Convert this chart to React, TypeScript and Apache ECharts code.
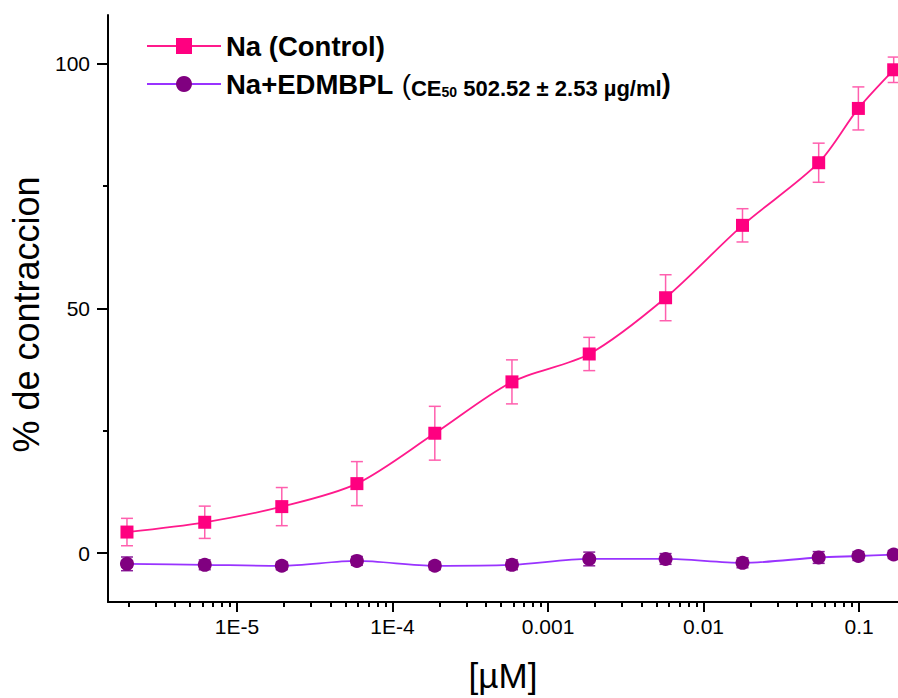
import React, { useEffect, useRef } from "react";
import * as echarts from "echarts";

// concentrations [µM]
const CONC = [1.96e-6, 6.2e-6, 1.94e-5, 5.9e-5, 1.87e-4, 5.86e-4, 1.84e-3, 5.7e-3, 1.78e-2, 5.5e-2, 0.099, 0.167];
const CONTROL = [4.3, 6.3, 9.5, 14.2, 24.5, 35.0, 40.7, 52.2, 67.0, 79.8, 90.9, 98.8];
const CONTROL_SEM = [2.8, 3.3, 3.9, 4.5, 5.5, 4.5, 3.4, 4.7, 3.4, 4.0, 4.4, 2.6];
const EDMBPL = [-2.2, -2.4, -2.6, -1.6, -2.6, -2.4, -1.2, -1.2, -2.0, -0.9, -0.6, -0.3];
const EDMBPL_SEM = [1.4, 1.0, 0.8, 0.9, 0.8, 1.0, 1.4, 1.1, 1.0, 1.2, 0.9, 0.8];

const X_MAJOR = [1e-5, 1e-4, 1e-3, 1e-2, 1e-1];
const X_MAJOR_LABELS = ["1E-5", "1E-4", "0.001", "0.01", "0.1"];
const X_MINOR = [
  2e-6, 3e-6, 4e-6, 5e-6, 6e-6, 7e-6, 8e-6, 9e-6,
  2e-5, 3e-5, 4e-5, 5e-5, 6e-5, 7e-5, 8e-5, 9e-5,
  2e-4, 3e-4, 4e-4, 5e-4, 6e-4, 7e-4, 8e-4, 9e-4,
  2e-3, 3e-3, 4e-3, 5e-3, 6e-3, 7e-3, 8e-3, 9e-3,
  2e-2, 3e-2, 4e-2, 5e-2, 6e-2, 7e-2, 8e-2, 9e-2,
];
const Y_MAJOR = [0, 50, 100];
const Y_MINOR = [25, 75];

const X_MIN = 1.48e-6;
const X_MAX = 0.178;

const FONT = "'Liberation Sans', Arial, sans-serif";

export default function App() {
  const ref = useRef<HTMLDivElement>(null);
  useEffect(() => {
    if (!ref.current) return;
    const chart = echarts.init(ref.current, null, { renderer: "svg" });

    const ctrlData = CONC.map((c, i) => [c, CONTROL[i]]);
    const edData = CONC.map((c, i) => [c, EDMBPL[i]]);
    const ctrlErr = CONC.map((c, i) => [c, CONTROL[i] - CONTROL_SEM[i], CONTROL[i] + CONTROL_SEM[i]]);
    const edErr = CONC.map((c, i) => [c, EDMBPL[i] - EDMBPL_SEM[i], EDMBPL[i] + EDMBPL_SEM[i]]);

    const errRender = (color: string) => (params: any, api: any) => {
      const x = api.value(0);
      const lo = api.coord([x, api.value(1)]);
      const hi = api.coord([x, api.value(2)]);
      const cap = 6;
      const style = { stroke: color, lineWidth: 1.5 };
      return {
        type: "group",
        children: [
          { type: "line", shape: { x1: lo[0], y1: lo[1], x2: hi[0], y2: hi[1] }, style },
          { type: "line", shape: { x1: lo[0] - cap, y1: lo[1], x2: lo[0] + cap, y2: lo[1] }, style },
          { type: "line", shape: { x1: hi[0] - cap, y1: hi[1], x2: hi[0] + cap, y2: hi[1] }, style },
        ],
      };
    };

    const xLabel = (v: number) => {
      const i = X_MAJOR.findIndex((t) => Math.abs(Math.log10(t) - Math.log10(v)) < 0.01);
      return i >= 0 ? X_MAJOR_LABELS[i] : "";
    };

    const axisCommon = {
      type: "log" as const,
      min: X_MIN,
      max: X_MAX,
      position: "bottom" as const,
      splitLine: { show: false },
    };

    chart.setOption({
      animation: false,
      backgroundColor: "#fff",
      grid: { left: 108, right: 0, top: 15, bottom: 91, containLabel: false },
      legend: {
        orient: "vertical",
        left: 141,
        top: 27,
        itemGap: 9,
        itemWidth: 74,
        itemHeight: 20,
        data: ["Na (Control)", "Na+EDMBPL"],
        formatter: (name: string) =>
          name === "Na+EDMBPL"
            ? "{a|Na+EDMBPL}{g| }{p|(}{b|CE}{s|50}{b| 502.52 ± 2.53 µg/ml}{q|)}"
            : "{a|" + name + "}",
        textStyle: {
          fontFamily: FONT,
          color: "#000",
          rich: {
            a: { fontFamily: FONT, fontSize: 27.5, fontWeight: "bold", color: "#000", lineHeight: 30 },
            g: { fontFamily: FONT, fontSize: 30, color: "#000", lineHeight: 30 },
            p: { fontFamily: FONT, fontSize: 28, color: "#000", lineHeight: 30 },
            q: { fontFamily: FONT, fontSize: 27, fontWeight: "bold", color: "#000", lineHeight: 30 },
            b: { fontFamily: FONT, fontSize: 22, fontWeight: "bold", color: "#000", lineHeight: 26, verticalAlign: "bottom" },
            s: { fontFamily: FONT, fontSize: 14, fontWeight: "bold", color: "#000", lineHeight: 14, verticalAlign: "bottom" },
          },
        },
      },
      xAxis: [
        {
          ...axisCommon,
          name: "[µM]",
          nameLocation: "middle",
          nameGap: 56,
          nameTextStyle: { fontFamily: FONT, fontSize: 35, color: "#000" },
          axisLine: { show: true, onZero: false, lineStyle: { color: "#000", width: 2 } },
          axisTick: { show: true, customValues: X_MAJOR, length: 10, lineStyle: { color: "#000", width: 2 } },
          axisLabel: {
            show: true,
            customValues: X_MAJOR,
            margin: 14,
            fontFamily: FONT,
            fontSize: 21,
            color: "#000",
            formatter: xLabel,
          },
        },
        {
          ...axisCommon,
          axisLine: { show: false, onZero: false },
          axisTick: { show: true, customValues: X_MINOR, length: 5, lineStyle: { color: "#000", width: 2 } },
          axisLabel: { show: false },
        },
      ],
      yAxis: [
        {
          type: "value",
          min: -10,
          max: 110,
          position: "left",
          name: "% de contraccion",
          nameLocation: "middle",
          nameGap: 63,
          nameTextStyle: { fontFamily: FONT, fontSize: 36, color: "#000", padding: [0, 12, 0, 0] },
          splitLine: { show: false },
          axisLine: { show: true, onZero: false, lineStyle: { color: "#000", width: 2 } },
          axisTick: { show: true, customValues: Y_MAJOR, length: 11, lineStyle: { color: "#000", width: 2 } },
          axisLabel: { show: true, customValues: Y_MAJOR, margin: 18, fontFamily: FONT, fontSize: 21, color: "#000" },
        },
        {
          type: "value",
          min: -10,
          max: 110,
          position: "left",
          splitLine: { show: false },
          axisLine: { show: false, onZero: false },
          axisTick: { show: true, customValues: Y_MINOR, length: 5, lineStyle: { color: "#000", width: 2 } },
          axisLabel: { show: false },
        },
      ],
      series: [
        {
          name: "ctrl-err",
          type: "custom",
          xAxisIndex: 0,
          yAxisIndex: 0,
          data: ctrlErr,
          encode: { x: 0, y: [1, 2] },
          renderItem: errRender("#FF5FAE"),
          z: 1,
          silent: true,
        },
        {
          name: "ed-err",
          type: "custom",
          xAxisIndex: 0,
          yAxisIndex: 0,
          data: edErr,
          encode: { x: 0, y: [1, 2] },
          renderItem: errRender("#8A1E9A"),
          z: 1,
          silent: true,
        },
        {
          name: "Na (Control)",
          type: "line",
          xAxisIndex: 0,
          yAxisIndex: 0,
          data: ctrlData,
          smooth: 0.3,
          symbol: "rect",
          symbolSize: 13,
          lineStyle: { color: "#FF1A8C", width: 1.8 },
          itemStyle: { color: "#FF0080", borderWidth: 0 },
          z: 3,
        },
        {
          name: "Na+EDMBPL",
          type: "line",
          xAxisIndex: 0,
          yAxisIndex: 0,
          data: edData,
          smooth: 0.3,
          symbol: "circle",
          symbolSize: 14,
          lineStyle: { color: "#9933FF", width: 1.8 },
          itemStyle: { color: "#800080", borderWidth: 0 },
          z: 3,
        },
      ],
    });
    return () => chart.dispose();
  }, []);

  return <div ref={ref} style={{ width: 898, height: 698, position: "absolute", left: 0, top: 0 }} />;
}
